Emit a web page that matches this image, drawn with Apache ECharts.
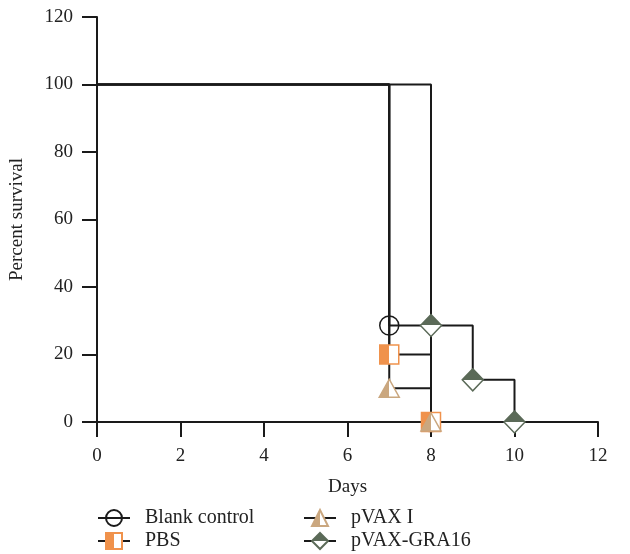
<!DOCTYPE html>
<html>
<head>
<meta charset="utf-8">
<script src="https://cdn.jsdelivr.net/npm/echarts@6/dist/echarts.min.js"></script>
<style>
  html, body { margin: 0; padding: 0; background: #fff; }
  #chart { width: 630px; height: 554px; }
</style>
</head>
<body>
<div id="chart"></div>
<script>
(() => {
  "use strict";

  const groupNames = ["Blank control", "PBS", "pVAX I", "pVAX-GRA16"];
  const blankControl = [[0, 100], [7, 28.6], [8, 0]];
  const pbs = [[0, 100], [7, 20], [8, 0]];
  const pvax1 = [[0, 100], [7, 10], [8, 0]];
  const pvaxGra16 = [[0, 100], [8, 28.6], [9, 12.5], [10, 0]];
  const xTicks = [0, 2, 4, 6, 8, 10, 12];
  const yTicks = [0, 20, 40, 60, 80, 100, 120];

  const font = "'Liberation Serif', 'DejaVu Serif', serif";
  const INK = "#1a1a1a";
  const TEXT = "#222";
  const ORANGE = "#f0924c";
  const TAN = "#caa77f";
  const GREEN = "#5b6a58";

  const half = (color, vertical) => ({
    type: "linear",
    x: 0, y: 0,
    x2: vertical ? 0 : 1,
    y2: vertical ? 1 : 0,
    colorStops: [
      { offset: 0, color },
      { offset: 0.5, color },
      { offset: 0.5, color: "#ffffff" },
      { offset: 1, color: "#ffffff" }
    ]
  });

  // first point (day 0) is drawn without a marker
  const toData = (points) => points.map((p, i) => (i === 0 ? { value: p, symbol: "none" } : { value: p }));

  const makeSeries = (name, points, symbol, size, itemStyle) => ({
    name,
    type: "line",
    step: "end",
    data: toData(points),
    symbol,
    symbolSize: size,
    showAllSymbol: true,
    lineStyle: { color: INK, width: 2 },
    itemStyle,
    emphasis: { disabled: true },
    animation: false
  });

  const axisCommon = {
    type: "value",
    nameLocation: "middle",
    nameTextStyle: { fontFamily: font, fontSize: 19, color: TEXT },
    axisLine: { show: true, onZero: false, lineStyle: { color: INK, width: 2 } },
    axisTick: { show: true, inside: false, length: 15, lineStyle: { color: INK, width: 2 } },
    splitLine: { show: false }
  };

  const legendCommon = {
    orient: "vertical",
    top: 508,
    height: 120,
    padding: 0,
    itemWidth: 32,
    itemHeight: 20,
    itemGap: 3,
    textStyle: { fontFamily: font, fontSize: 20, lineHeight: 18, color: TEXT, padding: [0, 0, 0, 10] },
    selectedMode: false
  };

  const chart = echarts.init(document.getElementById("chart"), null, { renderer: "canvas" });

  chart.setOption({
    animation: false,
    grid: { left: 97, right: 32, top: 17, bottom: 132 },
    xAxis: Object.assign({}, axisCommon, {
      min: xTicks[0],
      max: xTicks[xTicks.length - 1],
      interval: 2,
      name: "Days",
      nameGap: 56,
      axisLabel: { fontFamily: font, fontSize: 19, color: TEXT, margin: 25 }
    }),
    yAxis: Object.assign({}, axisCommon, {
      min: yTicks[0],
      max: yTicks[yTicks.length - 1],
      interval: 20,
      name: "Percent survival",
      nameGap: 70,
      axisLabel: { fontFamily: font, fontSize: 19, color: TEXT, margin: 24 }
    }),
    legend: [
      Object.assign({}, legendCommon, { data: [groupNames[0], groupNames[1]], left: 97 }),
      Object.assign({}, legendCommon, { data: [groupNames[2], groupNames[3]], left: 303 })
    ],
    series: [
      makeSeries(groupNames[0], blankControl, "circle", 19,
        { color: "rgba(255,255,255,0)", borderColor: INK, borderWidth: 1.5 }),
      makeSeries(groupNames[1], pbs, "rect", 19,
        { color: half(ORANGE, false), borderColor: ORANGE, borderWidth: 1.5 }),
      makeSeries(groupNames[2], pvax1, "triangle", [20, 18],
        { color: half(TAN, false), borderColor: TAN, borderWidth: 1.5 }),
      makeSeries(groupNames[3], pvaxGra16, "diamond", [21, 22],
        { color: half(GREEN, true), borderColor: GREEN, borderWidth: 1.5 })
    ]
  });

  // Prism-style axis overhang at the origin
  const origin = chart.convertToPixel({ gridIndex: 0 }, [0, 0]);
  chart.setOption({
    graphic: [
      {
        type: "line",
        shape: { x1: origin[0] - 15, y1: origin[1], x2: origin[0], y2: origin[1] },
        style: { stroke: INK, lineWidth: 2 },
        silent: true
      },
      {
        type: "line",
        shape: { x1: origin[0], y1: origin[1], x2: origin[0], y2: origin[1] + 15 },
        style: { stroke: INK, lineWidth: 2 },
        silent: true
      }
    ]
  });
})();
</script>
</body>
</html>
